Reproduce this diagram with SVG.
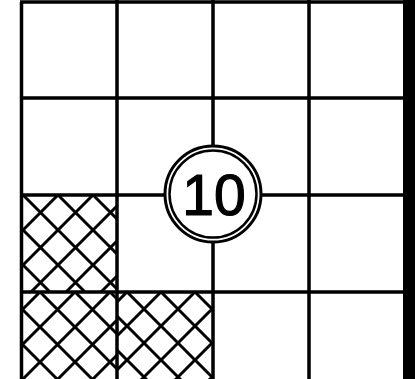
<svg xmlns="http://www.w3.org/2000/svg" width="415" height="379" viewBox="0 0 415 379">
<style>
.grid{stroke:#000;stroke-width:3.5;fill:none}
.h{stroke:#000;stroke-width:3}
.ring{fill:#fff;stroke:#000;stroke-width:3}
.ring2{fill:none;stroke:#000;stroke-width:2.5}
.lbl{font-family:"Liberation Sans",Arial,sans-serif;font-size:57px;fill:#000;stroke:#000;stroke-width:1.2}
</style>
<defs>
<pattern id="hA" patternUnits="userSpaceOnUse" x="23" y="195" width="35" height="35"><path class="h" d="M0 0L35 35M35 0L0 35M-2 33L2 37M33 -2L37 2M-2 2L2 -2M33 37L37 33"/></pattern>
<pattern id="hB" patternUnits="userSpaceOnUse" x="40" y="292" width="35" height="35"><path class="h" d="M0 0L35 35M35 0L0 35M-2 33L2 37M33 -2L37 2M-2 2L2 -2M33 37L37 33"/></pattern>
<pattern id="hC" patternUnits="userSpaceOnUse" x="127" y="292" width="34" height="34"><path class="h" d="M0 0L34 34M34 0L0 34M-2 32L2 36M32 -2L36 2M-2 2L2 -2M32 36L36 32"/></pattern>
</defs>
<rect width="415" height="379" fill="#fff"/>
<g id="hatches">
<rect x="22" y="195" width="95" height="97" fill="url(#hA)"/>
<rect x="22" y="292" width="95" height="87" fill="url(#hB)"/>
<rect x="117" y="292" width="96" height="87" fill="url(#hC)"/>
</g>
<g id="grid">
<path class="grid" d="M21.5 2V379M117 0V379M213 0V379M309 0V379"/>
<path class="grid" d="M20 2H405M20 98H405M20 195H405M20 292H405"/>
<rect x="403" y="0" width="12" height="379" fill="#000"/>
</g>
<g id="node10">
<circle class="ring" cx="213" cy="194" r="48"/>
<circle class="ring2" cx="213" cy="194" r="43.5"/>
<text class="lbl" x="214" y="215" text-anchor="middle">10</text>
</g>
</svg>
